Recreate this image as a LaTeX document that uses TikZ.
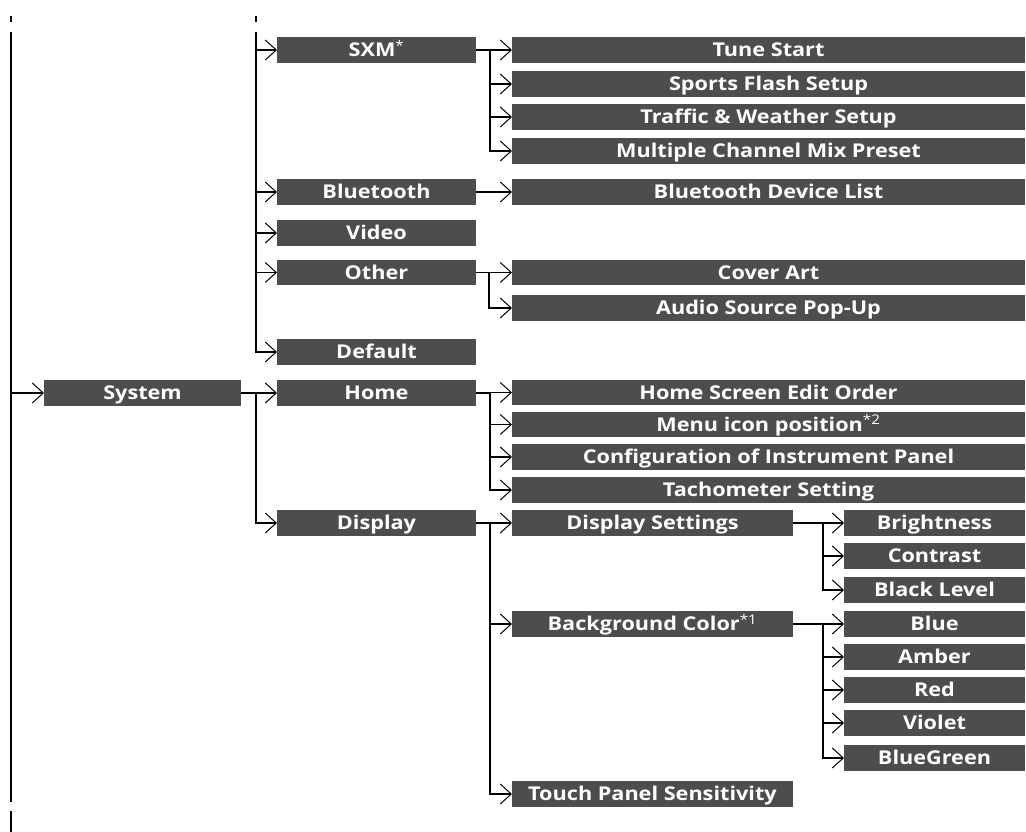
\documentclass[tikz,border=0pt]{standalone}
\usepackage{fontspec}
\setmainfont{Open Sans}[FakeStretch=1.14]
\usetikzlibrary{arrows.meta}
\definecolor{boxgray}{HTML}{4D4D4D}
\tikzset{
  box/.style={fill=boxgray, text=white, font=\fontsize{19}{21}\selectfont\bfseries,
    minimum height=25.7pt, inner sep=0pt, outer sep=0pt, text height=13.5pt, text depth=0pt, anchor=west},
  colA/.style={box, minimum width=197pt},
  colB/.style={box, minimum width=199pt},
  colCw/.style={box, minimum width=513pt},
  colCn/.style={box, minimum width=281pt},
  colD/.style={box, minimum width=181pt},
  ln/.style={line width=1.8pt, black},
  arr/.style={ln, -{Straight Barb[length=11pt, width=20pt, line width=1pt]}},
  tickmark/.style={line width=1.6pt, black},
}
\newcommand{\sups}[1]{{\mdseries\textsuperscript{#1}}}
\begin{document}
\begin{tikzpicture}[x=1pt, y=-1pt]
\useasboundingbox (0,0) rectangle (1026,832);
% column A
\node[colA] (system) at (44,393) {System};
% column B
\node[colB] (sxm) at (277,50) {SXM\sups{*}};
\node[colB] (bluetooth) at (277,192) {Bluetooth};
\node[colB] (video) at (277,233) {Video};
\node[colB] (other) at (277,272.5) {Other};
\node[colB] (default) at (277,352) {Default};
\node[colB] (home) at (277,393) {Home};
\node[colB] (display) at (277,523) {Display};
% column C
\node[colCw] (tune) at (512,50) {Tune Start};
\node[colCw] (sports) at (512,84) {Sports Flash Setup};
\node[colCw] (traffic) at (512,117) {Traffic \& Weather Setup};
\node[colCw] (multi) at (512,151) {Multiple Channel Mix Preset};
\node[colCw] (btlist) at (512,192) {Bluetooth Device List};
\node[colCw] (cover) at (512,272.5) {Cover Art};
\node[colCw] (audio) at (512,308) {Audio Source Pop-Up};
\node[colCw] (hse) at (512,392.5) {Home Screen Edit Order};
\node[colCw] (menu) at (512,424.5) {Menu icon position\sups{*2}};
\node[colCw] (config) at (512,457) {Configuration of Instrument Panel};
\node[colCw] (tach) at (512,490) {Tachometer Setting};
\node[colCn] (dset) at (512,523) {Display Settings};
\node[colCn] (bg) at (512,624) {Background Color\sups{*1}};
\node[colCn] (touch) at (512,794) {Touch Panel Sensitivity};
% column D
\node[colD] (bright) at (844,523) {Brightness};
\node[colD] (contrast) at (844,556) {Contrast};
\node[colD] (black) at (844,590) {Black Level};
\node[colD] (blue) at (844,624) {Blue};
\node[colD] (amber) at (844,657) {Amber};
\node[colD] (red) at (844,690) {Red};
\node[colD] (violet) at (844,723) {Violet};
\node[colD] (bluegreen) at (844,758) {BlueGreen};
% page-break marks
\draw[tickmark] (11,16.5) -- (11,22);
\draw[tickmark] (256,16.5) -- (256,22);
\draw[tickmark] (11,811) -- (11,832);
% left trunk
\coordinate (topA) at (11,32);
\coordinate (botA) at (11,801.7);
\draw[ln] (topA) -- (botA);
\draw[arr] (topA |- system.west) -- (system.west);
% column B upper trunk
\coordinate (topB) at (256,32);
\draw[arr] (topB) |- (default.west);
\foreach \n in {sxm,bluetooth,video,other}
  \draw[arr] (topB |- \n.west) -- (\n.west);
% system branches
\draw[arr] (system.east) -- (home.west);
\draw[arr] (system.east) -- ++(15,0) |- (display.west);
% SXM
\foreach \n in {tune,sports,traffic,multi}
  \draw[arr] (sxm.east) -- ++(14,0) |- (\n.west);
\draw[arr] (bluetooth.east) -- (btlist.west);
\foreach \n in {cover,audio}
  \draw[arr] (other.east) -- ++(13,0) |- (\n.west);
\foreach \n in {hse,menu,config,tach}
  \draw[arr] (home.east) -- ++(14,0) |- (\n.west);
\foreach \n in {dset,bg,touch}
  \draw[arr] (display.east) -- ++(14,0) |- (\n.west);
\foreach \n in {bright,contrast,black}
  \draw[arr] (dset.east) -- ++(30,0) |- (\n.west);
\foreach \n in {blue,amber,red,violet,bluegreen}
  \draw[arr] (bg.east) -- ++(30,0) |- (\n.west);
\end{tikzpicture}
\end{document}
